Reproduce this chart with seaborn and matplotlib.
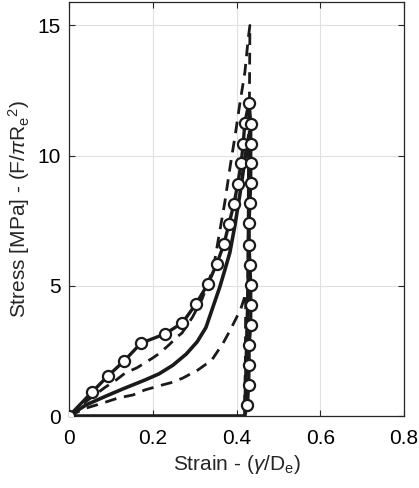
import numpy as np
import seaborn as sns
import matplotlib.pyplot as plt
import pandas as pd

# measured curve (circles): loading then unloading
exp_strain = [0.0, 0.055, 0.093, 0.132, 0.172, 0.229, 0.271, 0.303, 0.332, 0.353, 0.370,
              0.382, 0.394, 0.403, 0.411, 0.416, 0.420, 0.430,
              0.434, 0.434, 0.434, 0.434, 0.432, 0.430, 0.430, 0.432, 0.434, 0.434,
              0.434, 0.430, 0.430, 0.429, 0.426]
exp_stress = [0.0, 0.92, 1.54, 2.12, 2.80, 3.15, 3.58, 4.30, 5.08, 5.85, 6.60,
              7.38, 8.15, 8.92, 9.70, 10.46, 11.27, 12.04,
              11.23, 10.46, 9.73, 8.96, 8.19, 7.42, 6.58, 5.81, 5.04, 4.27,
              3.50, 2.73, 1.96, 1.19, 0.42]

# model, mean fit (solid): loading, unloading, slack back to origin
fit_strain = [0.0, 0.04, 0.086, 0.13, 0.181, 0.215, 0.248, 0.28, 0.306, 0.327, 0.344,
              0.36, 0.372, 0.384, 0.396, 0.408, 0.416, 0.424, 0.430,
              0.428, 0.420, 0.0]
fit_stress = [0.0, 0.42, 0.75, 1.05, 1.38, 1.62, 1.95, 2.38, 2.85, 3.40, 4.20,
              4.95, 5.60, 6.27, 7.30, 8.50, 9.40, 10.30, 10.80,
              5.0, 0.0, 0.0]

# model, upper bound (dashed)
up_strain = [0.0, 0.04, 0.086, 0.11, 0.134, 0.162, 0.200, 0.217, 0.240, 0.258, 0.270,
             0.295, 0.318, 0.345, 0.360, 0.372, 0.385, 0.397, 0.408, 0.420, 0.428, 0.432,
             0.430, 0.427, 0.422]
up_stress = [0.0, 0.55, 1.10, 1.35, 1.65, 1.85, 2.23, 2.42, 2.75, 3.04, 3.19,
             3.80, 4.50, 5.70, 7.10, 8.20, 9.60, 10.80, 12.00, 13.20, 14.50, 15.00,
             10.0, 5.0, 0.0]

# model, lower bound (dashed)
lo_strain = [0.0, 0.04, 0.081, 0.117, 0.153, 0.181, 0.220, 0.248, 0.272, 0.308, 0.341,
             0.368, 0.385, 0.410, 0.422, 0.421, 0.419]
lo_stress = [0.0, 0.30, 0.50, 0.69, 0.81, 1.00, 1.18, 1.30, 1.46, 1.77, 2.15,
             2.80, 3.30, 4.10, 4.70, 2.0, 0.0]

plt.rcParams['mathtext.fontset'] = 'custom'
plt.rcParams['mathtext.rm'] = 'Liberation Sans'
plt.rcParams['mathtext.it'] = 'Liberation Sans:italic'
sns.set_style('ticks')
plt.rcParams['font.family'] = ['Liberation Sans', 'DejaVu Sans']

fig = plt.figure(figsize=(4.19, 4.88), dpi=100)
ax = fig.add_axes([0.1647, 0.1475, 0.7995, 0.8484])

col = '#1a1a1a'
dash = (0, (4.2, 2.8))
sns.lineplot(x=up_strain, y=up_stress, sort=False, estimator=None, color=col,
             linewidth=2.0, linestyle=dash, ax=ax)
sns.lineplot(x=lo_strain, y=lo_stress, sort=False, estimator=None, color=col,
             linewidth=2.0, linestyle=dash, ax=ax)
sns.lineplot(x=fit_strain, y=fit_stress, sort=False, estimator=None, color=col,
             linewidth=2.6, ax=ax)
sns.lineplot(x=exp_strain, y=exp_stress, sort=False, estimator=None, color=col,
             linewidth=2.4, marker='o', markersize=8, markerfacecolor='white',
             markeredgecolor=col, markeredgewidth=1.6, ax=ax, zorder=5)

ax.set_xlim(0, 0.8)
ax.set_ylim(0, 15.9)
ax.set_xticks([0, 0.2, 0.4, 0.6, 0.8])
ax.set_xticklabels(['0', '0.2', '0.4', '0.6', '0.8'])
ax.set_yticks([0, 5, 10, 15])
ax.grid(True, color='#e0e0e0', linewidth=0.8)
ax.set_axisbelow(True)
ax.tick_params(direction='in', length=4, width=0.8, labelsize=15, colors='#262626',
               labelcolor='black', top=True, right=True)
ax.tick_params(axis='x', pad=9)
ax.tick_params(axis='y', pad=6)
for s in ax.spines.values():
    s.set_color('#262626')
    s.set_linewidth(0.9)

ax.set_xlabel(r'Strain - ($\gamma$/D$_{\rm e}$)', fontsize=15, labelpad=4)
ax.set_ylabel(r'Stress [MPa] - (F/$\pi$R$_{\rm e}$$^{\rm 2}$)', fontsize=15, labelpad=4)

plt.savefig('out.png', dpi=100)
